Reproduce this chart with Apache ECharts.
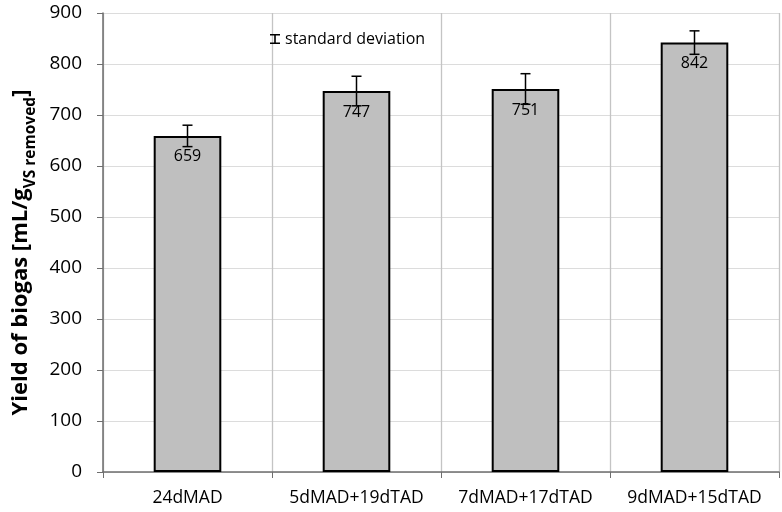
<!DOCTYPE html>
<html>
<head>
<meta charset="utf-8">
<script src="https://cdn.jsdelivr.net/npm/echarts@6/dist/echarts.min.js"></script>
<style>html,body{margin:0;padding:0;background:#fff}#c{width:782px;height:512px}</style>
</head>
<body>
<div id="c"></div>
<script>
const categories = ['24dMAD', '5dMAD+19dTAD', '7dMAD+17dTAD', '9dMAD+15dTAD'];
const yieldValues = [659, 747, 751, 842];
const stdDev = [21, 29, 30, 23];
const yTicks = [0, 100, 200, 300, 400, 500, 600, 700, 800, 900];

const chart = echarts.init(document.getElementById('c'));
const FONT = 'Open Sans';
chart.setOption({
  animation: false,
  textStyle: { fontFamily: FONT },
  grid: { left: 103, right: 3, top: 13, bottom: 40, containLabel: false },
  legend: {
    left: 265, top: 26,
    data: [{ name: 'standard deviation', icon: 'path://M0,0H10V1.4H5.8V8.6H10V10H0V8.6H4.2V1.4H0Z' }],
    itemWidth: 10, itemHeight: 11, itemGap: 10,
    textStyle: { fontFamily: FONT, fontSize: 16, color: '#000' }
  },
  xAxis: {
    type: 'category',
    data: categories,
    axisLine: { lineStyle: { color: '#6e6e6e', width: 1.5 } },
    axisTick: { show: true, interval: 0, length: 6, lineStyle: { color: '#6e6e6e' } },
    axisLabel: { interval: 0, fontFamily: FONT, fontSize: 17.5, color: '#000', margin: 17 },
    splitLine: { show: true, interval: 0, lineStyle: { color: '#c4c4c4', width: 1.3 } }
  },
  yAxis: {
    type: 'value',
    min: yTicks[0], max: yTicks[yTicks.length - 1], interval: 100,
    name: '{a|Yield of biogas [mL/g}{b|VS removed}{a|]}',
    nameLocation: 'middle', nameRotate: 90, nameGap: 54,
    nameTextStyle: {
      padding: [0, 20, 0, 0],
      rich: {
        a: { fontFamily: FONT, fontSize: 22, fontWeight: 'bold', color: '#000', verticalAlign: 'top', lineHeight: 27 },
        b: { fontFamily: FONT, fontSize: 15.5, fontWeight: 'bold', color: '#000', verticalAlign: 'top', lineHeight: 16, padding: [13, 0, 0, 0] }
      }
    },
    axisLine: { show: true, lineStyle: { color: '#6e6e6e', width: 1.5 } },
    axisTick: { show: true, length: 6, lineStyle: { color: '#6e6e6e' } },
    axisLabel: { fontFamily: FONT, fontSize: 19, color: '#000', margin: 21 },
    splitLine: { lineStyle: { color: '#dcdcdc', width: 1 } }
  },
  series: [
    {
      type: 'bar',
      name: 'yield',
      data: yieldValues,
      barWidth: '40%',
      itemStyle: { color: '#bfbfbf', borderColor: '#000', borderWidth: 2 },
      label: { show: true, position: 'insideTop', distance: 13, fontFamily: FONT, fontSize: 16, color: '#000' },
      z: 2
    },
    {
      type: 'custom',
      name: 'standard deviation',
      itemStyle: { color: '#000' },
      data: yieldValues.map((v, i) => [i, v - stdDev[i], v + stdDev[i]]),
      renderItem: function (params, api) {
        const x = api.value(0);
        const lo = api.coord([x, api.value(1)]);
        const hi = api.coord([x, api.value(2)]);
        const hw = 5;
        const st = { stroke: '#000', lineWidth: 1.5 };
        return {
          type: 'group',
          children: [
            { type: 'line', shape: { x1: lo[0], y1: lo[1], x2: hi[0], y2: hi[1] }, style: st },
            { type: 'line', shape: { x1: lo[0] - hw, y1: lo[1], x2: lo[0] + hw, y2: lo[1] }, style: st },
            { type: 'line', shape: { x1: hi[0] - hw, y1: hi[1], x2: hi[0] + hw, y2: hi[1] }, style: st }
          ]
        };
      },
      z: 5
    }
  ]
});
</script>
</body>
</html>
